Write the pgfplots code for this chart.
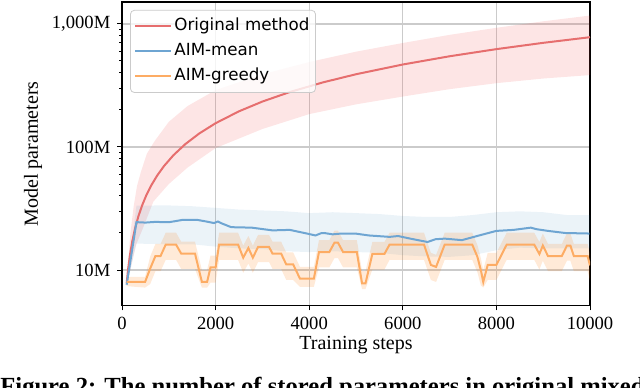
\documentclass[border=0pt]{standalone}
\usepackage{fontspec}
\setmainfont{Liberation Serif}
\newfontfamily\legendfont{DejaVu Sans}
\usepackage{pgfplots}
\usepackage{pgfplotstable}
\pgfplotsset{compat=1.18}
\usepgfplotslibrary{fillbetween}

\definecolor{origred}{RGB}{230,110,110}
\definecolor{meanblue}{RGB}{110,165,210}
\definecolor{greedyorange}{RGB}{253,172,100}
\definecolor{bandred}{RGB}{240,80,80}
\definecolor{bandblue}{RGB}{31,119,180}
\definecolor{bandorange}{RGB}{255,127,14}
\definecolor{gridgray}{RGB}{203,203,203}

% original method: mean, upper and lower edge (millions)
\pgfplotstableread{
s m
100 7.8
130 10.14
170 13.26
220 17.16
280 21.84
350 27.3
430 33.54
520 40.56
620 48.36
750 58.5
900 70.2
1100 85.8
1350 105.3
1650 128.7
2000 156
2500 195
3000 234
3600 280.8
4300 335.4
5000 390
6000 468
7000 546
8000 624
9000 702
10000 780
}\redmean
\pgfplotstableread{
s v
100 8
180 20
250 33
320 48
400 62
530 88
700 112
1000 160
1400 215
2000 290
3000 390
4000 490
5000 595
6000 700
7000 815
8000 930
9000 1050
10000 1170
}\redup
\pgfplotstableread{
s v
100 7.5
200 11
300 16
450 22
670 36
1000 50
1400 68
2000 98
3000 140
4000 185
5000 222
6000 257
7000 295
8000 330
9000 360
10000 384
}\redlo

% AIM-mean
\pgfplotstableread{
s m
100 7.6
309 24.5
500 24.3
700 24.6
1008 24.5
1150 25.0
1302 25.6
1597 25.6
1800 24.8
1965 24.1
2050 24.8
2112 24.1
2333 22.3
2774 22.1
3216 21.0
3584 21.2
3951 19.8
4135 19.1
4250 19.9
4319 20.0
4500 19.5
4687 19.8
4982 19.8
5276 19.1
5717 18.6
5900 18.9
6159 18.0
6527 16.9
6700 17.8
6895 18.0
7263 17.5
7631 19.1
7999 20.8
8367 21.2
8735 22.1
8850 21.5
9103 20.8
9470 20.0
9985 19.8
}\bluemean
\pgfplotstableread{
s hi lo
100 7.8 7.4
309 33.4 16.4
1000 33.5 16.2
1500 33.0 16.2
2000 32.0 15.5
2500 31.0 15.0
3000 30.5 14.8
3500 30.0 14.2
4000 29.0 14.0
4500 29.5 14.2
5000 29.0 14.0
5500 28.5 13.8
6000 27.5 13.2
6500 27.0 12.9
7000 27.0 12.8
7500 28.0 13.2
8000 29.5 14.5
8500 30.0 15.2
9000 29.5 15.0
9500 28.0 15.0
10000 28.0 15.0
}\blueband

% AIM-greedy: line, upper and lower edge
\pgfplotstableread{
s m hi lo
100 8.0 8.8 7.4
493 8.0 8.8 7.2
603 10.3 12.9 7.7
714 13.0 16.3 9.8
824 13.0 16.3 9.8
934 16.1 20.1 12.1
1155 16.1 20.1 12.1
1265 13.6 17.0 10.2
1560 13.6 17.0 10.2
1707 8.0 10.0 7.2
1818 8.0 10.0 7.2
1891 10.5 13.1 7.9
2001 10.5 13.1 7.9
2075 16.1 20.1 12.1
2480 16.1 20.1 12.1
2590 12.6 15.8 9.5
2700 15.1 18.9 11.3
2796 12.6 15.8 9.5
2907 15.4 19.3 11.6
3142 15.4 19.3 11.6
3216 13.6 17.0 10.2
3400 13.6 17.0 10.2
3510 11.1 13.9 8.3
3657 11.1 13.9 8.3
3804 8.5 10.6 7.3
4099 8.5 10.6 7.3
4209 14.0 17.5 10.5
4430 14.0 17.5 10.5
4540 16.7 20.9 12.5
4614 16.7 20.9 12.5
4724 14.0 17.5 10.5
5018 14.0 17.5 10.5
5129 7.8 9.8 7.0
5203 7.8 9.8 7.0
5349 13.5 16.9 10.1
5607 13.5 16.9 10.1
5717 16.1 20.1 12.1
6453 16.1 20.1 12.1
6600 11.0 13.8 8.3
6711 10.6 13.3 8.0
6895 16.1 20.1 12.1
7483 16.1 20.1 12.1
7594 12.8 16.0 9.6
7667 10.0 12.5 7.5
7719 8.0 10.0 7.2
7814 11.0 13.8 8.3
7999 11.0 13.8 8.3
8220 16.1 20.1 12.1
8808 16.1 20.1 12.1
8918 13.5 16.9 10.1
8992 15.8 19.8 11.9
9102 13.0 16.3 9.8
9397 13.0 16.3 9.8
9507 15.8 19.8 11.9
9581 15.8 19.8 11.9
9654 13.0 16.3 9.8
9949 13.0 16.3 9.8
10000 10.9 13.6 8.2
}\greedy

\begin{document}
\begin{tikzpicture}
\begin{axis}[
    at={(61pt,40.65pt)}, anchor=south west,
    width=234pt, height=151.85pt, scale only axis,
    xmin=0, xmax=10000,
    ymode=log, ymin=5.13, ymax=1507,
    xtick={0,2000,...,10000},
    scaled x ticks=false,
    ytick={10,100,1000},
    yticklabels={10M,100M,{1,000M}},
    /pgf/number format/assume math mode=true,
    xticklabel style={/pgf/number format/1000 sep={}},
    tick label style={font=\fontsize{9.3}{11}\selectfont},
    label style={font=\fontsize{9.3}{11}\selectfont},
    xlabel={Training steps},
    ylabel={Model parameters},
    every axis x label/.style={at={(axis description cs:0.5,-0.129)}, anchor=center},
    every axis y label/.style={at={(axis description cs:-0.190,0.5)}, rotate=90, anchor=center},
    grid=major,
    major grid style={gridgray, line width=0.6pt},
    axis line style={black, line width=0.65pt},
    tick pos=left, tick align=outside,
    major tick length=2.3pt, minor tick length=1.4pt,
    tick style={black, line width=0.5pt},
    legend cell align=left,
    legend image code/.code={\draw[#1, line width=1pt] (0pt,0pt) -- (18pt,0pt);},
    legend style={at={(0.0171,0.974)}, anchor=north west,
        draw=gridgray, rounded corners=2pt, fill=white, fill opacity=0.8, text opacity=1,
        font=\legendfont\fontsize{8.35}{10}\selectfont,
        inner xsep=2pt, inner ysep=3pt, row sep=2.4pt,
        nodes={inner sep=1pt, text height=6.3pt, text depth=1.8pt},
        /tikz/every even column/.append style={column sep=4pt}},
]
\addplot[name path=ru, draw=none, forget plot] table[x=s, y=v] {\redup};
\addplot[name path=rl, draw=none, forget plot] table[x=s, y=v] {\redlo};
\addplot[bandred, fill opacity=0.15, draw=none, forget plot] fill between[of=ru and rl];

\addplot[name path=bu, draw=none, forget plot] table[x=s, y=hi] {\blueband};
\addplot[name path=bl, draw=none, forget plot] table[x=s, y=lo] {\blueband};
\addplot[bandblue, fill opacity=0.09, draw=none, forget plot] fill between[of=bu and bl];

\addplot[name path=gu, draw=none, forget plot] table[x=s, y=hi] {\greedy};
\addplot[name path=gl, draw=none, forget plot] table[x=s, y=lo] {\greedy};
\addplot[bandorange, fill opacity=0.16, draw=none, forget plot] fill between[of=gu and gl];

\addplot[origred, line width=1pt] table[x=s, y=m] {\redmean};
\addlegendentry{Original method}
\addplot[meanblue, line width=1pt] table[x=s, y=m] {\bluemean};
\addlegendentry{AIM-mean}
\addplot[greedyorange, line width=1pt] table[x=s, y=m] {\greedy};
\addlegendentry{AIM-greedy}
\end{axis}
\node[anchor=north west, inner sep=0pt, font=\fontsize{12.3}{14}\selectfont\bfseries]
    at (0pt,5.25pt) {Figure 2: The number of stored parameters in original mixed};
\pgfresetboundingbox
\useasboundingbox (0,0) rectangle (320pt,193.5pt);
\end{tikzpicture}
\end{document}
